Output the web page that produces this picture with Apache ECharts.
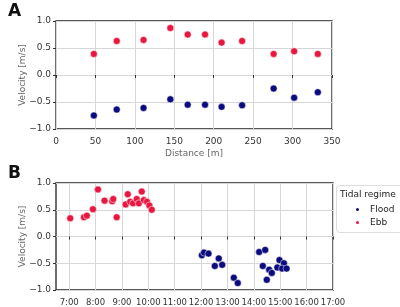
<!DOCTYPE html>
<html>
<head>
<meta charset="utf-8">
<script src="https://cdn.jsdelivr.net/npm/echarts@6/dist/echarts.min.js"></script>
<style>
  html, body { margin: 0; padding: 0; background: #fff; }
  #main { width: 400px; height: 307px; }
</style>
</head>
<body>
<div id="main"></div>
<script>
// panel A: velocity along distance
var distA = [48, 77, 111, 145, 167, 189, 210, 236, 276, 302, 332];
var ebbA = [0.39, 0.63, 0.65, 0.87, 0.75, 0.75, 0.60, 0.63, 0.39, 0.44, 0.39];
var floodA = [-0.75, -0.64, -0.61, -0.45, -0.55, -0.55, -0.59, -0.56, -0.25, -0.42, -0.32];

// panel B: velocity over time of day (hours)
var timeEbb = [7.04, 7.56, 7.67, 7.90, 8.09, 8.34, 8.63, 8.67, 8.80, 9.14, 9.22, 9.31, 9.42, 9.56, 9.64, 9.75, 9.83, 9.95, 10.04, 10.13];
var ebbB = [0.34, 0.36, 0.39, 0.51, 0.88, 0.67, 0.66, 0.70, 0.36, 0.60, 0.79, 0.65, 0.62, 0.70, 0.62, 0.84, 0.68, 0.65, 0.58, 0.50];
var timeFlood = [12.03, 12.11, 12.28, 12.67, 12.52, 12.80, 13.24, 13.39, 14.20, 14.43, 14.34, 14.49, 14.58, 14.68, 14.89, 14.97, 15.14, 15.07, 15.24];
var floodB = [-0.35, -0.30, -0.32, -0.41, -0.55, -0.53, -0.77, -0.87, -0.29, -0.25, -0.55, -0.81, -0.62, -0.68, -0.58, -0.44, -0.50, -0.60, -0.60];
var hourTicks = [7, 8, 9, 10, 11, 12, 13, 14, 15, 16, 17];

var red = '#e8173f';
var blue = '#0b0b7e';

function pairs(xs, ys) {
    return xs.map(function (x, i) { return [x, ys[i]]; });
}

var chart = echarts.init(document.getElementById('main'));

var tickFont = { fontFamily: 'DejaVu Sans', fontSize: 9, color: '#333' };
var gridLine = { show: true, lineStyle: { color: '#d6d6d6', width: 1 } };

var yAxisBase = {
    type: 'value',
    min: -1, max: 1, interval: 0.5,
    name: 'Velocity [m/s]',
    nameLocation: 'middle',
    nameMoveOverlap: false,
    nameGap: 29,
    nameTextStyle: { fontFamily: 'DejaVu Sans', fontSize: 9, color: '#666' },
    axisLine: { show: false },
    axisTick: { show: true, length: 3, lineStyle: { color: '#333' } },
    axisLabel: { fontFamily: 'DejaVu Sans', fontSize: 9, color: '#333', margin: 5,
        formatter: function (v) { return v.toFixed(1).replace('-', '\u2212'); } },
    splitLine: gridLine
};

function dot(color) {
    return { color: color, opacity: 1, borderColor: '#fff', borderWidth: 0.5 };
}

option = {
    animation: false,
    title: [
        { text: 'A', left: 3, top: -2, textStyle: { fontFamily: 'DejaVu Sans', fontSize: 17, fontWeight: 'bold', color: '#111' } },
        { text: 'B', left: 3, top: 160, textStyle: { fontFamily: 'DejaVu Sans', fontSize: 17, fontWeight: 'bold', color: '#111' } }
    ],
    grid: [
        { left: 56, top: 21, width: 276, height: 108, show: true, borderColor: '#222', borderWidth: 1.3, backgroundColor: 'transparent' },
        { left: 56, top: 183, width: 277, height: 108, show: true, borderColor: '#222', borderWidth: 1.3, backgroundColor: 'transparent' }
    ],
    xAxis: [
        {
            gridIndex: 0, type: 'value', min: 0, max: 350, interval: 50,
            name: 'Distance [m]', nameLocation: 'middle', nameGap: 20,
            nameTextStyle: { fontFamily: 'DejaVu Sans', fontSize: 9, color: '#666' },
            axisLine: { show: false },
            axisTick: { show: true, length: 3, lineStyle: { color: '#333' } },
            axisLabel: tickFont,
            splitLine: gridLine
        },
        {
            gridIndex: 1, type: 'value', min: 6.5, max: 17,
            axisLine: { show: false },
            axisTick: { show: true, length: 3, lineStyle: { color: '#333' }, customValues: hourTicks },
            axisLabel: { fontFamily: 'DejaVu Sans', fontSize: 8.5, color: '#333', customValues: hourTicks,
                formatter: function (v) { return v + ':00'; } },
            splitLine: gridLine
        }
    ],
    yAxis: [
        Object.assign({ gridIndex: 0 }, yAxisBase),
        Object.assign({ gridIndex: 1 }, yAxisBase)
    ],
    legend: {
        data: ['Flood', 'Ebb'],
        orient: 'vertical',
        left: 349, top: 200,
        icon: 'circle',
        itemWidth: 5, itemHeight: 5,
        itemGap: 4,
        textStyle: { fontFamily: 'DejaVu Sans', fontSize: 9, color: '#222', padding: [0, 0, 0, 5] }
    },
    graphic: [
        { type: 'rect', left: 336, top: 185, shape: { width: 66, height: 47, r: 3 },
          style: { fill: '#fff', stroke: '#ddd', lineWidth: 1 }, z: -1 },
        { type: 'text', left: 340, top: 190,
          style: { text: 'Tidal regime', font: '9px DejaVu Sans', fill: '#222' } }
    ],
    series: [
        { name: 'Ebb', type: 'scatter', xAxisIndex: 0, yAxisIndex: 0, data: pairs(distA, ebbA),
          symbolSize: 7, itemStyle: dot(red) },
        { name: 'Flood', type: 'scatter', xAxisIndex: 0, yAxisIndex: 0, data: pairs(distA, floodA),
          symbolSize: 7, itemStyle: dot(blue) },
        { name: 'Flood', type: 'scatter', xAxisIndex: 1, yAxisIndex: 1, data: pairs(timeFlood, floodB),
          symbolSize: 7, itemStyle: dot(blue) },
        { name: 'Ebb', type: 'scatter', xAxisIndex: 1, yAxisIndex: 1, data: pairs(timeEbb, ebbB),
          symbolSize: 7, itemStyle: dot(red) }
    ]
};

chart.setOption(option);
</script>
</body>
</html>
